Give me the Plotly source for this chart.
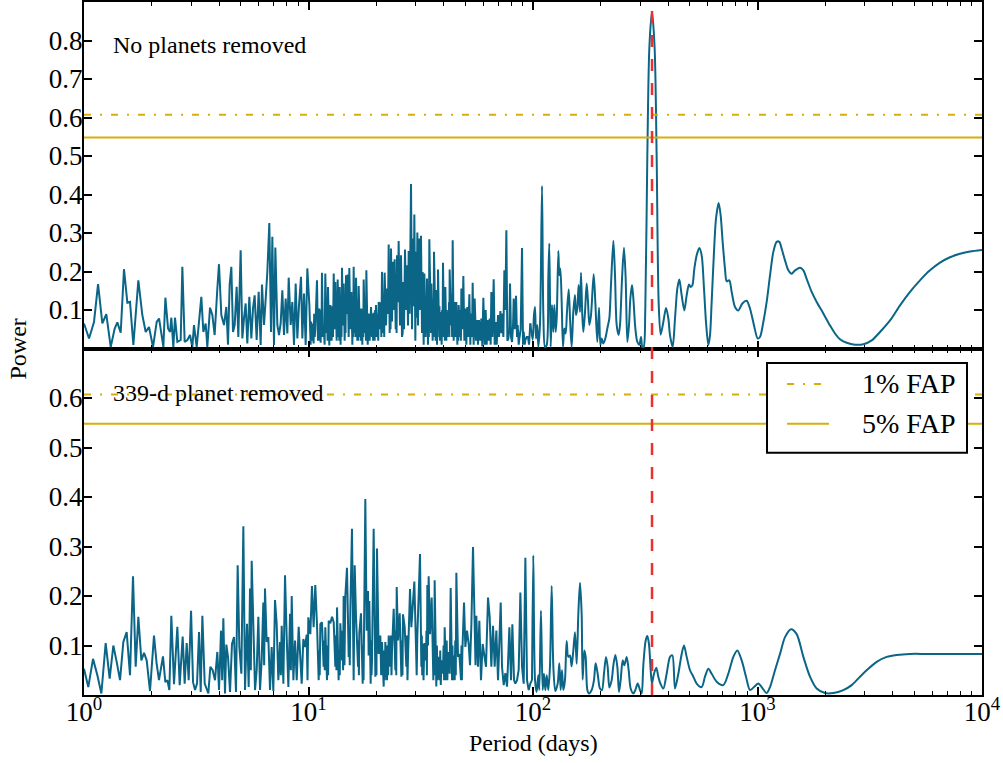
import plotly.graph_objects as go

# ---------------------------------------------------------------------------
# Generalised Lomb-Scargle periodograms (period in days, normalised power)
# ---------------------------------------------------------------------------

# Top panel: no planets removed -- short-period, densely sampled part
top_short_period = [
    1.000, 1.053, 1.108, 1.155, 1.207, 1.257, 1.315, 1.370, 1.408, 1.457,
    1.507, 1.560, 1.603, 1.659, 1.746, 1.819, 1.883, 1.948, 2.030, 2.108,
    2.159, 2.257, 2.304, 2.368, 2.417, 2.449, 2.500, 2.543, 2.605, 2.696,
    2.742, 2.808, 2.886, 2.966, 3.038, 3.090, 3.176, 3.253, 3.331, 3.401,
    3.483, 3.543, 3.642, 3.730, 3.819, 3.926, 3.993, 4.090, 4.203, 4.305,
    4.379, 4.455, 4.532, 4.610, 4.690, 4.786, 4.869, 4.986, 5.073, 5.160,
    5.249, 5.339, 5.451, 5.564, 5.660, 5.756, 5.876, 5.998, 6.122, 6.207,
    6.336, 6.422, 6.556, 6.691, 6.808, 6.901, 7.020, 7.118, 7.265, 7.390,
    7.516, 7.646, 7.779, 7.913, 8.049, 8.161, 8.330, 8.472, 8.619, 8.767,
    8.919, 9.073, 9.261, 9.388, 9.550, 9.714, 9.881,
    10.09, 10.22, 10.27, 10.31, 10.36, 10.54, 10.60, 10.66, 10.72, 10.91,
    11.02, 11.07, 11.12, 11.17, 11.33, 11.38, 11.43, 11.48, 11.60, 11.68,
    11.80, 11.88, 12.05, 12.10, 12.16, 12.21, 12.38, 12.42, 12.47, 12.51,
    12.68, 12.77, 12.86, 12.95, 13.08, 13.17, 13.35, 13.40, 13.44, 13.49,
    13.62, 13.67, 13.71, 13.76, 13.90, 13.97, 14.03, 14.10, 14.24, 14.34,
    14.49, 14.56, 14.62, 14.69, 14.84, 14.94, 15.10, 15.20, 15.36, 15.52,
    15.68, 15.75, 15.82, 15.89, 16.06, 16.13, 16.21, 16.28, 16.50, 16.58,
    16.65, 16.73, 16.96, 17.04, 17.11, 17.19, 17.37, 17.45, 17.53, 17.61,
    17.85, 17.93, 18.02, 18.10, 18.35, 18.54, 18.73, 18.99, 19.18, 19.29,
    19.40, 19.51, 19.71, 19.80, 19.89, 19.98, 20.26, 20.35, 20.45, 20.54,
    20.82, 20.96, 21.11, 21.25, 21.54, 21.64, 21.74, 21.84, 22.14, 22.37,
    22.60, 22.76, 22.99, 23.10, 23.20, 23.31, 23.55, 23.79, 24.04, 24.20,
    24.45, 24.56, 24.68, 24.79, 25.04, 25.21, 25.56, 25.83, 26.09, 26.18,
    26.27, 26.36, 26.63, 26.91, 27.19, 27.47, 27.75, 27.94, 28.23, 28.62,
    28.91, 29.11, 29.41, 29.61, 29.92, 30.12, 30.33, 30.54, 30.75, 31.06,
    31.38, 31.70, 32.03, 32.25, 32.58, 32.81, 33.26, 33.41, 33.56, 33.71,
    34.06, 34.22, 34.37, 34.53, 34.89, 35.01, 35.13, 35.25, 35.73, 35.90,
    36.06, 36.23, 36.60, 36.73, 36.85, 36.98, 37.36, 37.49, 37.62, 37.75,
    38.14, 38.31, 38.49, 38.66, 39.19, 39.37, 39.55, 39.73, 40.14, 40.32,
    40.51, 40.69, 41.11, 41.30, 41.49, 41.68, 42.11, 42.25, 42.40, 42.54,
    43.13, 43.38, 43.62, 43.87, 44.33, 44.63, 45.09, 45.56, 46.03, 46.24,
    46.45, 46.66, 47.30, 47.52, 47.74, 47.96, 48.45, 48.95, 49.45, 49.96,
    50.47, 50.99, 51.52, 52.05, 52.58, 52.94, 53.49, 53.86, 54.41, 54.97,
    55.73, 56.30, 56.88, 57.47, 58.26, 58.86, 59.47, 60.09, 60.92, 61.55,
    62.18, 62.82, 63.47, 64.13, 64.79, 65.23, 65.91, 66.82, 67.51, 68.20,
    68.91, 69.86, 70.58, 71.55, 72.29, 72.78, 73.79, 74.55, 75.32, 76.09,
    76.88, 77.67, 78.47, 79.01, 79.82, 80.65, 81.48, 82.04, 82.89, 84.03,
    84.89, 85.48, 86.36, 86.95, 88.14, 89.36, 90.28, 90.90, 91.83, 92.46,
    93.73, 95.02, 96.00, 97.30,
]
top_short_power = [
    0.065, 0.026, 0.069, 0.167, 0.065, 0.089, 0.004, 0.052, 0.068, 0.041,
    0.206, 0.119, 0.121, 0.009, 0.177, 0.087, 0.043, 0.056, 0.004, 0.069,
    0.078, 0.004, 0.132, 0.052, 0.043, 0.080, 0.004, 0.080, 0.017, 0.022,
    0.212, 0.017, 0.022, 0.035, 0.004, 0.061, 0.004, 0.082, 0.134, 0.043,
    0.065, 0.004, 0.106, 0.087, 0.035, 0.156, 0.219, 0.087, 0.061, 0.108,
    0.010, 0.166, 0.212, 0.043, 0.061, 0.160, 0.030, 0.255, 0.026, 0.078,
    0.117, 0.013, 0.134, 0.026, 0.104, 0.138, 0.022, 0.147, 0.009, 0.166,
    0.061, 0.113, 0.199, 0.326, 0.043, 0.290, 0.009, 0.262, 0.061, 0.035,
    0.065, 0.151, 0.035, 0.130, 0.039, 0.184, 0.061, 0.121, 0.009, 0.169,
    0.026, 0.113, 0.186, 0.026, 0.143, 0.009, 0.208,
    0.113, 0.010, 0.070, 0.020, 0.065, 0.013, 0.090, 0.030, 0.050, 0.177,
    0.020, 0.080, 0.020, 0.104, 0.015, 0.100, 0.030, 0.197, 0.030, 0.060,
    0.010, 0.195, 0.040, 0.090, 0.020, 0.160, 0.008, 0.070, 0.020, 0.113,
    0.020, 0.110, 0.030, 0.195, 0.050, 0.173, 0.020, 0.080, 0.030, 0.179,
    0.040, 0.100, 0.020, 0.160, 0.010, 0.090, 0.030, 0.210, 0.060, 0.169,
    0.020, 0.110, 0.040, 0.190, 0.090, 0.192, 0.030, 0.209, 0.050, 0.147,
    0.010, 0.100, 0.030, 0.212, 0.040, 0.120, 0.030, 0.184, 0.020, 0.090,
    0.020, 0.162, 0.030, 0.080, 0.020, 0.104, 0.010, 0.100, 0.030, 0.179,
    0.040, 0.110, 0.020, 0.203, 0.010, 0.091, 0.020, 0.108, 0.030, 0.090,
    0.020, 0.093, 0.020, 0.100, 0.030, 0.113, 0.030, 0.090, 0.020, 0.121,
    0.050, 0.120, 0.030, 0.199, 0.040, 0.100, 0.030, 0.197, 0.060, 0.156,
    0.090, 0.270, 0.040, 0.130, 0.050, 0.260, 0.070, 0.225, 0.100, 0.232,
    0.050, 0.140, 0.040, 0.242, 0.120, 0.279, 0.060, 0.242, 0.030, 0.120,
    0.040, 0.173, 0.050, 0.257, 0.100, 0.216, 0.060, 0.253, 0.090, 0.427,
    0.050, 0.286, 0.110, 0.348, 0.020, 0.251, 0.080, 0.301, 0.060, 0.286,
    0.100, 0.293, 0.040, 0.199, 0.010, 0.195, 0.030, 0.120, 0.040, 0.182,
    0.010, 0.130, 0.030, 0.284, 0.050, 0.120, 0.040, 0.169, 0.020, 0.110,
    0.030, 0.251, 0.040, 0.100, 0.020, 0.152, 0.010, 0.090, 0.030, 0.205,
    0.050, 0.110, 0.020, 0.095, 0.010, 0.100, 0.030, 0.223, 0.030, 0.090,
    0.020, 0.160, 0.020, 0.100, 0.030, 0.095, 0.040, 0.120, 0.030, 0.205,
    0.060, 0.140, 0.030, 0.281, 0.020, 0.121, 0.030, 0.121, 0.010, 0.080,
    0.020, 0.113, 0.030, 0.100, 0.020, 0.156, 0.050, 0.188, 0.020, 0.104,
    0.010, 0.108, 0.030, 0.141, 0.010, 0.091, 0.030, 0.171, 0.010, 0.130,
    0.020, 0.074, 0.010, 0.074, 0.020, 0.078, 0.005, 0.132, 0.010, 0.100,
    0.010, 0.074, 0.020, 0.078, 0.010, 0.147, 0.030, 0.180, 0.010, 0.069,
    0.010, 0.087, 0.030, 0.097, 0.040, 0.091, 0.030, 0.203, 0.100, 0.307,
    0.020, 0.026, 0.050, 0.169, 0.030, 0.017, 0.060, 0.130, 0.050, 0.137,
    0.030, 0.061, 0.010, 0.026, 0.050, 0.261, 0.010, 0.043, 0.010, 0.022,
    0.030, 0.030, 0.010, 0.065,
]

# Top panel: long-period part, including the 339-d signal
top_long_period = [
    97.30, 99.65, 101.0, 102.1, 103.1, 104.5, 105.6, 107.4, 109.7, 111.2,
    113.1, 115.1, 117.0, 118.2, 119.9, 121.5, 123.2, 124.5, 126.2, 127.5,
    129.7, 131.0, 132.4, 134.2, 136.0, 137.9, 139.8, 141.7, 144.2, 146.2,
    148.6, 151.2, 153.8, 155.4, 157.5, 159.7, 161.9, 163.6, 165.8, 167.6,
    170.5, 173.4, 175.8, 178.2, 181.3, 186.3, 189.5, 193.4, 196.8, 199.5,
    202.2, 205.7, 210.0, 214.3, 218.8, 222.5, 228.0, 231.9, 235.9, 240.8,
    244.1, 249.2, 254.3, 258.7, 263.2, 267.7, 271.4, 276.1, 279.9, 285.7,
    291.6, 297.6, 302.8, 306.9, 311.1, 316.3, 323.0, 329.7, 338.8, 348.2,
    355.4, 362.8, 370.3, 380.7, 391.3, 400.8, 407.7, 418.9, 429.1, 439.5,
    448.6, 459.5, 472.2, 483.6, 495.3, 503.8, 512.5, 523.1, 535.8, 550.6,
    564.0, 577.6, 589.6, 603.9, 614.3, 624.9, 640.0, 653.3, 671.4, 685.3,
    699.5, 716.5, 728.8, 749.0, 767.2, 793.9, 821.5, 855.9, 894.8, 925.9,
    964.8, 1001.7, 1026.0, 1061.7, 1098.6, 1137.0, 1176.4, 1217.3, 1251.0, 1281.4,
    1326.0, 1372.1, 1419.8, 1469.2, 1546.5, 1600.3, 1655.8, 1743.0, 1834.7, 1964.8,
    2103.0, 2213.7, 2330.3, 2496.2, 2718.9, 2961.5, 3225.6, 3513.3, 3894.7, 4313.7,
    4779.0, 5293.2, 5865.0, 6501.0, 7202.0, 7980.0, 8842.0, 10000.0,
]
top_long_power = [
    0.065, 0.022, 0.087, 0.108, 0.026, 0.061, 0.004, 0.061, 0.422, 0.087,
    0.004, 0.009, 0.182, 0.273, 0.004, 0.113, 0.043, 0.113, 0.043, 0.078,
    0.253, 0.190, 0.208, 0.121, 0.004, 0.052, 0.039, 0.095, 0.153, 0.078,
    0.004, 0.095, 0.139, 0.087, 0.104, 0.165, 0.095, 0.197, 0.087, 0.043,
    0.095, 0.169, 0.121, 0.061, 0.087, 0.193, 0.121, 0.017, 0.106, 0.009,
    0.026, 0.013, 0.026, 0.052, 0.078, 0.165, 0.280, 0.190, 0.061, 0.035,
    0.061, 0.182, 0.262, 0.182, 0.017, 0.061, 0.130, 0.165, 0.130, 0.052,
    0.017, 0.010, 0.030, 0.004, 0.004, 0.100, 0.500, 0.780, 0.875, 0.780,
    0.500, 0.120, 0.036, 0.069, 0.105, 0.078, 0.034, 0.004, 0.078, 0.156,
    0.179, 0.138, 0.099, 0.138, 0.166, 0.160, 0.164, 0.207, 0.242, 0.261,
    0.242, 0.156, 0.069, 0.009, 0.034, 0.121, 0.251, 0.337, 0.378, 0.346,
    0.277, 0.207, 0.175, 0.177, 0.147, 0.108, 0.099, 0.117, 0.124, 0.104,
    0.060, 0.026, 0.030, 0.069, 0.121, 0.190, 0.251, 0.277, 0.277, 0.259,
    0.229, 0.203, 0.194, 0.203, 0.210, 0.203, 0.181, 0.147, 0.121, 0.091,
    0.060, 0.039, 0.024, 0.015, 0.010, 0.011, 0.021, 0.043, 0.073, 0.112,
    0.147, 0.177, 0.203, 0.223, 0.237, 0.246, 0.252, 0.256,
]

# Bottom panel: 339-d planet removed -- short-period part
bottom_short_period = [
    1.000, 1.045, 1.097, 1.147, 1.195, 1.249, 1.301, 1.351, 1.398, 1.447,
    1.497, 1.549, 1.603, 1.653, 1.699, 1.746, 1.801, 1.851, 1.902, 1.968,
    2.050, 2.107, 2.158, 2.248, 2.303, 2.351, 2.400, 2.449, 2.517, 2.605,
    2.668, 2.751, 2.808, 2.867, 2.926, 2.998, 3.060, 3.123, 3.188, 3.254,
    3.310, 3.367, 3.449, 3.519, 3.580, 3.654, 3.743, 3.833, 3.926, 3.994,
    4.076, 4.125, 4.175, 4.247, 4.305, 4.380, 4.471, 4.563, 4.658, 4.754,
    4.836, 4.920, 5.022, 5.126, 5.215, 5.323, 5.415, 5.489, 5.535, 5.584,
    5.680, 5.778, 5.877, 5.979, 6.082, 6.185, 6.292, 6.345, 6.400, 6.511,
    6.623, 6.738, 6.854, 6.972, 7.093, 7.215, 7.340, 7.466, 7.530, 7.596,
    7.727, 7.860, 7.996, 8.134, 8.275, 8.345, 8.418, 8.563, 8.711, 8.862,
    9.041, 9.197, 9.324, 9.484, 9.648, 9.814, 9.900, 9.983,
    10.19, 10.36, 10.54, 10.72, 10.91, 11.10, 11.16, 11.22, 11.29, 11.48,
    11.68, 11.75, 11.81, 11.88, 12.09, 12.16, 12.23, 12.30, 12.51, 12.73,
    12.95, 13.17, 13.25, 13.32, 13.40, 13.62, 13.70, 13.78, 13.86, 14.10,
    14.18, 14.26, 14.34, 14.46, 14.59, 14.84, 15.10, 15.19, 15.27, 15.36,
    15.62, 15.89, 15.95, 16.00, 16.06, 16.28, 16.62, 16.69, 16.77, 16.84,
    17.13, 17.43, 17.51, 17.59, 17.67, 17.91, 18.16, 18.41, 18.53, 18.66,
    18.92, 19.01, 19.09, 19.18, 19.51, 19.85, 19.96, 20.08, 20.19, 20.54,
    20.89, 21.07, 21.25, 21.62, 21.74, 21.87, 21.99, 22.37, 22.50, 22.63,
    22.76, 23.15, 23.28, 23.42, 23.55, 23.96, 24.37, 24.48, 24.60, 24.71,
    25.04, 25.48, 25.92, 26.07, 26.22, 26.36, 26.82, 27.28, 27.44, 27.60,
    27.75, 28.33, 28.72, 29.11, 29.61, 30.12, 30.33, 30.54, 30.75, 31.38,
    31.81, 31.96, 32.10, 32.25, 32.53, 32.81, 33.37, 33.52, 33.68, 33.83,
    34.06, 34.29, 34.77, 35.37, 35.98, 36.14, 36.31, 36.47, 37.10, 37.32,
    37.53, 37.75, 38.40, 38.62, 38.84, 39.06, 39.73, 39.96, 40.19, 40.42,
    40.97, 41.25, 41.54, 41.82, 42.54, 42.98, 43.58, 43.78, 43.98, 44.18,
    44.79, 45.05, 45.30, 45.56, 46.34, 46.98, 47.79, 48.01, 48.23, 48.45,
    49.29, 49.96, 50.82, 51.70, 52.41, 53.13, 54.05, 54.97, 55.45, 55.92,
    56.88, 57.67, 58.66, 59.67, 60.71, 61.75, 63.04, 64.13, 65.23, 66.36,
    67.51, 68.67, 69.86, 70.58, 71.80, 72.78, 74.04, 75.32, 76.62, 77.41,
    78.47, 79.82, 80.92, 82.32, 83.45, 84.89, 86.36, 87.84, 89.36, 90.90,
    92.46, 94.05, 95.67, 97.30, 98.98,
]
bottom_short_power = [
    0.053, 0.016, 0.073, 0.040, 0.003, 0.105, 0.033, 0.100, 0.067, 0.030,
    0.107, 0.127, 0.040, 0.240, 0.057, 0.158, 0.070, 0.085, 0.070, 0.008,
    0.120, 0.063, 0.030, 0.078, 0.026, 0.030, 0.010, 0.160, 0.022, 0.138,
    0.020, 0.118, 0.023, 0.105, 0.030, 0.170, 0.026, 0.010, 0.023, 0.127,
    0.006, 0.160, 0.023, 0.010, 0.003, 0.057, 0.050, 0.030, 0.087, 0.010,
    0.130, 0.030, 0.155, 0.003, 0.102, 0.077, 0.006, 0.103, 0.117, 0.006,
    0.262, 0.097, 0.043, 0.341, 0.010, 0.144, 0.016, 0.215, 0.050, 0.271,
    0.150, 0.010, 0.050, 0.158, 0.010, 0.070, 0.187, 0.060, 0.215, 0.107,
    0.117, 0.010, 0.097, 0.008, 0.192, 0.144, 0.030, 0.107, 0.040, 0.140,
    0.023, 0.242, 0.117, 0.016, 0.164, 0.050, 0.200, 0.030, 0.110, 0.030,
    0.138, 0.063, 0.023, 0.113, 0.097, 0.122, 0.030, 0.157,
    0.123, 0.220, 0.137, 0.222, 0.143, 0.030, 0.090, 0.040, 0.143, 0.147,
    0.057, 0.110, 0.050, 0.137, 0.030, 0.100, 0.040, 0.150, 0.145, 0.158,
    0.147, 0.057, 0.120, 0.050, 0.177, 0.030, 0.090, 0.040, 0.145, 0.070,
    0.130, 0.050, 0.200, 0.060, 0.200, 0.257, 0.077, 0.130, 0.060, 0.172,
    0.336, 0.030, 0.120, 0.050, 0.262, 0.157, 0.057, 0.110, 0.040, 0.125,
    0.165, 0.023, 0.100, 0.030, 0.110, 0.396, 0.130, 0.210, 0.080, 0.190,
    0.023, 0.110, 0.040, 0.070, 0.336, 0.037, 0.120, 0.040, 0.296, 0.083,
    0.120, 0.040, 0.107, 0.017, 0.090, 0.030, 0.107, 0.030, 0.100, 0.040,
    0.120, 0.057, 0.120, 0.040, 0.090, 0.174, 0.050, 0.130, 0.040, 0.218,
    0.110, 0.165, 0.037, 0.110, 0.040, 0.163, 0.137, 0.057, 0.120, 0.030,
    0.077, 0.214, 0.137, 0.177, 0.229, 0.097, 0.040, 0.120, 0.165, 0.285,
    0.057, 0.120, 0.040, 0.103, 0.030, 0.105, 0.070, 0.130, 0.040, 0.222,
    0.100, 0.240, 0.123, 0.197, 0.030, 0.110, 0.040, 0.232, 0.017, 0.100,
    0.030, 0.077, 0.030, 0.090, 0.020, 0.070, 0.043, 0.100, 0.030, 0.137,
    0.030, 0.110, 0.030, 0.087, 0.043, 0.216, 0.030, 0.100, 0.030, 0.080,
    0.030, 0.110, 0.040, 0.247, 0.077, 0.083, 0.030, 0.100, 0.030, 0.087,
    0.187, 0.097, 0.130, 0.103, 0.060, 0.140, 0.299, 0.163, 0.060, 0.160,
    0.057, 0.150, 0.030, 0.103, 0.077, 0.057, 0.197, 0.158, 0.057, 0.140,
    0.057, 0.130, 0.030, 0.103, 0.187, 0.057, 0.020, 0.044, 0.017, 0.064,
    0.137, 0.030, 0.143, 0.030, 0.023, 0.030, 0.051, 0.207, 0.057, 0.023,
    0.277, 0.030, 0.010, 0.023, 0.030,
]

# Bottom panel: long-period part
bottom_long_period = [
    98.98, 100.3, 102.1, 103.8, 105.6, 106.7, 108.5, 110.4, 111.9, 113.5,
    115.1, 117.0, 119.0, 121.1, 123.2, 125.7, 128.8, 131.0, 132.8, 134.6,
    136.5, 138.8, 141.2, 143.6, 146.2, 148.6, 151.2, 153.8, 156.5, 159.2,
    161.9, 164.7, 166.4, 169.3, 171.6, 174.6, 177.6, 182.5, 186.9, 190.1,
    194.1, 198.8, 202.9, 207.1, 211.4, 215.1, 218.8, 224.1, 228.0, 232.7,
    237.5, 241.6, 245.7, 250.9, 255.2, 261.4, 266.8, 272.3, 279.9, 285.7,
    292.6, 299.6, 304.8, 310.0, 317.6, 323.0, 328.6, 334.3, 338.8, 345.8,
    354.2, 361.6, 367.9, 380.7, 393.9, 407.7, 417.6, 429.1, 444.0, 459.5,
    470.6, 483.6, 500.4, 517.8, 535.8, 564.0, 583.6, 603.9, 624.9, 657.8,
    704.4, 741.4, 780.4, 813.1, 850.1, 888.7, 925.9, 964.8, 1008.6, 1043.7,
    1098.6, 1137.0, 1196.7, 1259.7, 1326.0, 1410.1, 1494.5, 1600.3, 1713.3, 1834.7,
    1998.5, 2176.3, 2412.2, 2627.5, 2861.9, 3117.2, 3395.4, 3762.0, 4168.5, 4779.0,
    5668.0, 6725.0, 7980.0, 10000.0,
]
bottom_long_power = [
    0.030, 0.282, 0.030, 0.006, 0.040, 0.010, 0.170, 0.010, 0.043, 0.010,
    0.040, 0.010, 0.057, 0.220, 0.057, 0.008, 0.023, 0.064, 0.010, 0.050,
    0.010, 0.030, 0.109, 0.077, 0.080, 0.058, 0.090, 0.127, 0.063, 0.164,
    0.227, 0.164, 0.031, 0.090, 0.077, 0.010, 0.003, 0.010, 0.030, 0.064,
    0.043, 0.013, 0.010, 0.043, 0.077, 0.057, 0.015, 0.030, 0.060, 0.081,
    0.057, 0.006, 0.030, 0.070, 0.060, 0.077, 0.050, 0.013, 0.003, 0.010,
    0.023, 0.010, 0.003, 0.060, 0.110, 0.119, 0.103, 0.050, 0.023, 0.043,
    0.055, 0.037, 0.025, 0.013, 0.043, 0.077, 0.080, 0.013, 0.043, 0.083,
    0.100, 0.077, 0.050, 0.037, 0.023, 0.016, 0.037, 0.053, 0.043, 0.027,
    0.020, 0.043, 0.077, 0.090, 0.070, 0.037, 0.010, 0.016, 0.023, 0.016,
    0.004, 0.016, 0.050, 0.083, 0.117, 0.133, 0.123, 0.077, 0.037, 0.013,
    0.004, 0.004, 0.010, 0.020, 0.037, 0.053, 0.067, 0.077, 0.081, 0.083,
    0.083, 0.083, 0.083, 0.083,
]

# False-alarm-probability levels and the removed planet's period
FAP_1 = 0.607
FAP_5 = 0.548
PLANET_PERIOD = 339.0
PERIOD_LIMITS = [1.0, 1.0e4]

TOP_TICKS = [0.1, 0.2, 0.3, 0.4, 0.5, 0.6, 0.7, 0.8]
BOTTOM_TICKS = [0.1, 0.2, 0.3, 0.4, 0.5, 0.6]
X_TICKS = [1, 10, 100, 1000, 10000]
X_TICKTEXT = ["10<sup>0</sup>", "10<sup>1</sup>", "10<sup>2</sup>",
              "10<sup>3</sup>", "10<sup>4</sup>"]

# ---------------------------------------------------------------------------
BLUE = "#0b6587"
GOLD = "#d8ae0c"
RED = "#ec2f2f"
SERIF = "Liberation Serif, Times New Roman, serif"
DASHDOT = "7px,9px,2px,9px"

fig = go.Figure()

panels = [
    ("x2", "y2", top_short_period, top_short_power, top_long_period, top_long_power),
    ("x", "y", bottom_short_period, bottom_short_power, bottom_long_period, bottom_long_power),
]
for xa, ya, ps, ws, pl, wl in panels:
    fig.add_trace(go.Scatter(x=ps, y=ws, xaxis=xa, yaxis=ya, mode="lines",
                             line=dict(color=BLUE, width=2),
                             showlegend=False, hoverinfo="skip"))
    fig.add_trace(go.Scatter(x=pl, y=wl, xaxis=xa, yaxis=ya, mode="lines",
                             line=dict(color=BLUE, width=2, shape="spline",
                                       smoothing=0.8),
                             showlegend=False, hoverinfo="skip"))
    fig.add_trace(go.Scatter(x=PERIOD_LIMITS, y=[FAP_1, FAP_1], xaxis=xa, yaxis=ya,
                             mode="lines", line=dict(color=GOLD, width=2, dash=DASHDOT),
                             showlegend=False, hoverinfo="skip"))
    fig.add_trace(go.Scatter(x=PERIOD_LIMITS, y=[FAP_5, FAP_5], xaxis=xa, yaxis=ya,
                             mode="lines", line=dict(color=GOLD, width=2),
                             showlegend=False, hoverinfo="skip"))

# Period of the removed planet, spanning both panels
fig.add_shape(type="line", xref="x", yref="paper", x0=PLANET_PERIOD, x1=PLANET_PERIOD,
              y0=0, y1=1, line=dict(color=RED, width=2.5, dash="12px,12px"), layer="above")

minor_vals = [m * 10 ** d for d in range(4) for m in range(2, 10)]
tick_font = dict(family=SERIF, size=27, color="black")
common = dict(showline=True, linecolor="black", linewidth=2, mirror="allticks",
              ticks="inside", tickcolor="black", tickwidth=1.5, showgrid=False,
              zeroline=False, tickfont=tick_font)

xcommon = dict(common, type="log", range=[0, 4], tickmode="array",
               tickvals=X_TICKS, ticktext=X_TICKTEXT, ticklen=8,
               minor=dict(ticks="inside", ticklen=4, tickwidth=1.2, tickcolor="black",
                          tickmode="array", tickvals=minor_vals, showgrid=False))

fig.update_layout(
    width=1003, height=763,
    margin=dict(l=84, r=21, t=0, b=68),
    paper_bgcolor="white", plot_bgcolor="white",
    font=dict(family=SERIF, color="black"),
    xaxis=dict(xcommon, domain=[0, 1], anchor="y", ticklabelstandoff=-8),
    xaxis2=dict(xcommon, domain=[0, 1], anchor="y2", matches="x", showticklabels=False),
    yaxis=dict(common, domain=[0, 0.5], anchor="x", range=[0, 0.7], tickmode="array",
               tickvals=BOTTOM_TICKS, ticklen=8, ticklabelstandoff=-6),
    yaxis2=dict(common, domain=[0.5, 1], anchor="x2", range=[0, 0.9], tickmode="array",
                tickvals=TOP_TICKS, ticklen=8, ticklabelstandoff=-6),
    showlegend=False,
)

# Panel labels and axis titles
ann_font = dict(family=SERIF, size=24, color="black")
fig.add_annotation(text="No planets removed", xref="paper", yref="paper", x=0.030, y=0.938,
                   xanchor="left", yanchor="middle", showarrow=False, font=ann_font)
fig.add_annotation(text="339-d planet removed", xref="paper", yref="paper", x=0.030, y=0.436,
                   xanchor="left", yanchor="middle", showarrow=False, font=ann_font)
fig.add_annotation(text="Period (days)", xref="paper", yref="paper", x=0.5, y=-0.069,
                   xanchor="center", yanchor="middle", showarrow=False, font=ann_font)
fig.add_annotation(text="Power", xref="paper", yref="paper", x=-0.0735, y=0.5,
                   xanchor="center", yanchor="middle", showarrow=False, textangle=-90,
                   font=ann_font)

# Legend box for the FAP levels (lower panel, upper right)
lx0, lx1, ly0, ly1 = 0.7606, 0.9833, 0.3496, 0.4791
fig.add_shape(type="rect", xref="paper", yref="paper", x0=lx0, x1=lx1, y0=ly0, y1=ly1,
              line=dict(color="black", width=2), fillcolor="white", layer="above")
legend_rows = [("1% FAP", DASHDOT, 0.4489), ("5% FAP", "solid", 0.3914)]
for label, dash, yy in legend_rows:
    fig.add_shape(type="line", xref="paper", yref="paper", x0=0.7829, x1=0.8296,
                  y0=yy, y1=yy, line=dict(color=GOLD, width=2, dash=dash), layer="above")
    fig.add_annotation(text=label, xref="paper", yref="paper", x=0.8641, y=yy,
                       xanchor="left", yanchor="middle", showarrow=False,
                       font=dict(family=SERIF, size=28, color="black"))

fig.write_html("out.html")
